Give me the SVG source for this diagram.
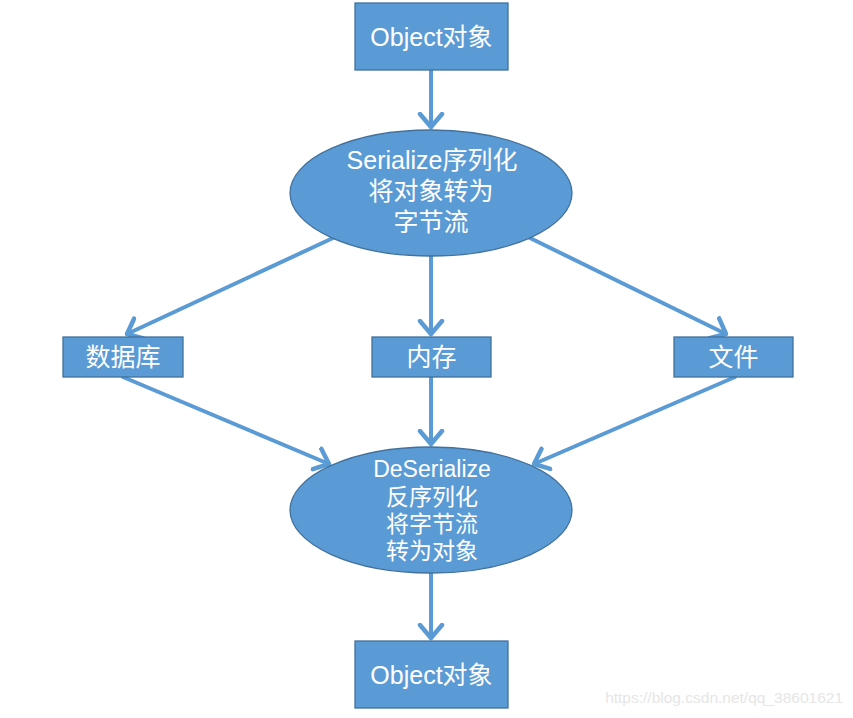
<svg xmlns="http://www.w3.org/2000/svg" width="853" height="718" viewBox="0 0 853 718">
<style>
.box{fill:#5B9BD5;stroke:#41719C;stroke-width:1.3}
.t{fill:#fff;font-family:"Liberation Sans","Noto Sans CJK SC",sans-serif;text-anchor:middle}
.c{stroke:#5B9BD5;stroke-width:4;fill:none;stroke-linecap:round}
</style>
<defs>
<marker id="arr" markerUnits="userSpaceOnUse" markerWidth="30" markerHeight="30" viewBox="0 0 30 30" refX="15" refY="15" orient="auto">
<path d="M2,4 L15,15 L2,26" fill="none" stroke="#5B9BD5" stroke-width="4.5" stroke-linecap="round" stroke-linejoin="round"/>
</marker>
</defs>
<rect width="853" height="718" fill="#fff"/>
<g id="connectors">
<line class="c" x1="431" y1="70" x2="431" y2="127" marker-end="url(#arr)"/>
<line class="c" x1="333" y1="238" x2="127" y2="334" marker-end="url(#arr)"/>
<line class="c" x1="431" y1="256" x2="431" y2="334" marker-end="url(#arr)"/>
<line class="c" x1="530" y1="238" x2="726" y2="334" marker-end="url(#arr)"/>
<line class="c" x1="123" y1="377" x2="329" y2="464" marker-end="url(#arr)"/>
<line class="c" x1="431" y1="377" x2="431" y2="444" marker-end="url(#arr)"/>
<line class="c" x1="735" y1="377" x2="534" y2="464" marker-end="url(#arr)"/>
<line class="c" x1="431" y1="573" x2="431" y2="638" marker-end="url(#arr)"/>
</g>
<g id="obj-top">
<rect class="box" x="355" y="3" width="153" height="67"/>
<text class="t" x="431.5" y="46" font-size="25">Object对象</text>
</g>
<g id="serialize">
<ellipse class="box" cx="431" cy="193" rx="141" ry="63"/>
<text class="t" x="432" y="169" font-size="25">Serialize序列化</text>
<text class="t" x="431" y="200" font-size="25">将对象转为</text>
<text class="t" x="431" y="231" font-size="25">字节流</text>
</g>
<g id="db">
<rect class="box" x="63" y="337" width="120" height="40"/>
<text class="t" x="123" y="366" font-size="25">数据库</text>
</g>
<g id="mem">
<rect class="box" x="372" y="337" width="119" height="40"/>
<text class="t" x="431.5" y="366" font-size="25">内存</text>
</g>
<g id="file">
<rect class="box" x="674" y="337" width="119" height="40"/>
<text class="t" x="733.5" y="366" font-size="25">文件</text>
</g>
<g id="deserialize">
<ellipse class="box" cx="431" cy="510" rx="141" ry="63"/>
<text class="t" x="432" y="477" font-size="23">DeSerialize</text>
<text class="t" x="432" y="505" font-size="23">反序列化</text>
<text class="t" x="432" y="532" font-size="23">将字节流</text>
<text class="t" x="432" y="559" font-size="23">转为对象</text>
</g>
<g id="obj-bottom">
<rect class="box" x="355" y="641" width="153" height="67"/>
<text class="t" x="431.5" y="684" font-size="25">Object对象</text>
</g>
<text x="843" y="703" font-size="15.5" fill="#e6e6e6" font-family="Liberation Sans,sans-serif" text-anchor="end">https://blog.csdn.net/qq_38601621</text>
</svg>
